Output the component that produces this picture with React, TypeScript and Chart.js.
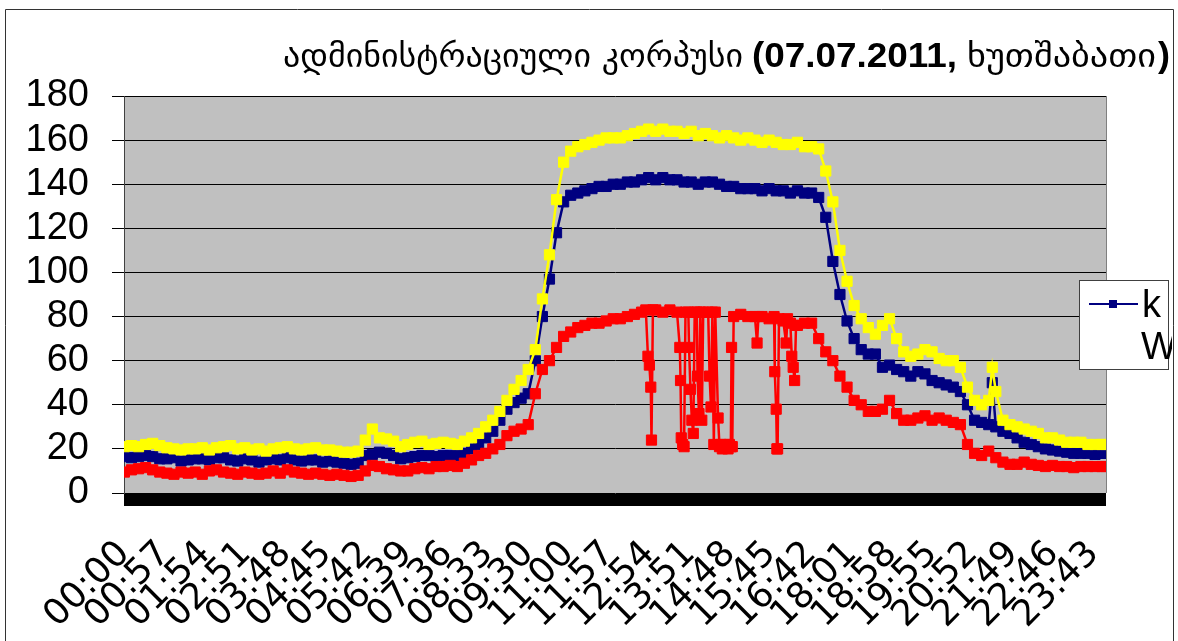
import React, { useEffect, useRef } from 'react';
import { Chart, registerables } from 'chart.js';

Chart.register(...registerables);

// ---------- DATA ----------
const titleParts = ['ადმინისტრაციული კორპუსი', '(07.07.2011,', 'ხუთშაბათი', ')'];
const legendLines = ['k', 'W'];
const seriesNames = ['kVA', 'kVAr', 'kW'];

const xTickLabels = [
  '00:00', '00:57', '01:54', '02:51', '03:48', '04:45', '05:42', '06:39', '07:36', '08:33',
  '09:30', '11:00', '11:57', '12:54', '13:51', '14:48', '15:45', '16:42', '18:01', '18:58',
  '19:55', '20:52', '21:49', '22:46', '23:43',
];
const tickEvery = 57; // one label every 57 records
const recordCount = 1386;
const yMin = 0;
const yMax = 180;
const yStep = 20;

// record index of each sample (yellow & blue series)
const sampleIdx = [
  0, 10, 20, 30, 40, 50, 60, 70, 80, 90,
  100, 110, 120, 130, 140, 150, 160, 170, 180, 190,
  200, 210, 220, 230, 240, 250, 260, 270, 280, 290,
  300, 310, 320, 330, 340, 350, 360, 370, 380, 390,
  400, 410, 420, 430, 440, 450, 460, 470, 480, 490,
  500, 510, 520, 530, 540, 550, 560, 570, 580, 590,
  600, 610, 620, 630, 640, 650, 660, 670, 680, 690,
  700, 710, 720, 730, 740, 750, 760, 770, 780, 790,
  800, 810, 820, 830, 840, 850, 860, 870, 880, 890,
  900, 910, 920, 930, 940, 950, 960, 970, 980, 990,
  1000, 1010, 1020, 1030, 1040, 1050, 1060, 1070, 1080, 1090,
  1100, 1110, 1120, 1130, 1140, 1150, 1160, 1170, 1180, 1190,
  1200, 1210, 1220, 1225, 1230, 1240, 1250, 1260, 1270, 1280, 1290,
  1300, 1310, 1320, 1330, 1340, 1350, 1360, 1370, 1380, 1385,
];

const yellowVals = [
  21, 21.5, 21, 22, 22.5, 21.5, 20.5, 20, 19.5, 20,
  20, 20.5, 19.5, 20.5, 21, 21.5, 20, 20.5, 19.5, 20,
  19, 20, 20.5, 21, 20, 19.5, 20, 20.5, 19.5, 19.5,
  19, 18.5, 18.5, 19, 24, 29, 25, 24.5, 23.5, 21,
  22, 23, 23.5, 22, 22.5, 23, 22.5, 22, 23.5, 25,
  27, 30, 33, 37, 42, 47, 51, 56, 65, 88,
  108, 133, 150, 155, 157, 158, 159, 160, 161, 161,
  161, 162, 163, 164, 165, 164, 165, 164, 164, 163,
  164, 162, 163, 162, 161, 162, 161, 160, 161, 160,
  159, 160, 159, 158, 158, 159, 157, 157, 156, 146,
  132, 110, 96, 85, 79, 75, 72, 76, 79, 70,
  64, 62, 63, 65, 64, 61, 60, 60, 57, 48,
  42, 40, 42, 57, 46, 33, 31, 30, 29, 28, 27,
  25, 25, 24, 23, 23, 23, 22, 22, 22, 22,
];

const blueVals = [
  16.5, 16, 16.5, 17, 16.5, 15.5, 15.5, 16, 14.5, 15,
  15.5, 15.5, 15, 16, 16, 15, 14.5, 15.5, 15, 14,
  15, 15.5, 15, 16, 15, 14.5, 15, 15, 14, 14.5,
  14, 13.5, 13, 13.5, 17, 17.5, 18.5, 18, 17, 15.5,
  16, 16.5, 17, 17, 16.5, 17, 17, 17, 18, 20,
  22, 25, 28, 33, 38, 41, 43, 45, 60, 80,
  97, 118, 132, 135, 136, 137, 138, 139, 139, 140,
  140, 141, 141, 142, 143, 142, 143, 142, 142, 141,
  141, 140, 141, 141, 140, 139, 139, 138, 138, 138,
  137, 138, 137, 137, 136, 137, 136, 136, 134, 125,
  105, 90, 78, 70, 65, 63, 63, 57, 58, 56,
  55, 53, 55, 54, 51, 50, 49, 48, 46, 40,
  33, 32, 31, 50, 30, 28, 27, 25, 23, 22, 21,
  20, 19.5, 19, 18.5, 18, 18, 18, 17.5, 18, 18,
];

// red series has extra records where it drops
const redIdx = [
  0, 10, 20, 30, 40, 50, 60, 70, 80, 90,
  100, 110, 120, 130, 140, 150, 160, 170, 180, 190,
  200, 210, 220, 230, 240, 250, 260, 270, 280, 290,
  300, 310, 320, 330, 340, 350, 360, 370, 380, 390,
  400, 410, 420, 430, 440, 450, 460, 470, 480, 490,
  500, 510, 520, 530, 540, 550, 560, 570, 580, 590,
  600, 610, 620, 630, 640, 650, 660, 670, 680, 690,
  700, 710, 720, 730,
  736, 739, 741, 743, 744, 746, 750, 760, 770, 780,
  784, 785, 786, 788, 790, 792, 796, 797, 799, 801, 803, 805, 808, 809, 811, 813, 815, 817,
  824, 826, 828, 830, 832, 834, 838, 840, 842, 844, 846, 848, 850, 852, 854, 856, 857, 858, 860,
  870, 880, 890, 893, 895, 900, 910, 917, 918, 920, 921, 922, 924, 930, 934, 936, 940, 942, 944, 946, 948,
  950, 960, 970, 980, 990,
  1000, 1010, 1020, 1030, 1040, 1050, 1060, 1070, 1080, 1090,
  1100, 1110, 1120, 1130, 1140, 1150, 1160, 1170, 1180, 1190,
  1200, 1210, 1220, 1230, 1240, 1250, 1260, 1270, 1280, 1290,
  1300, 1310, 1320, 1330, 1340, 1350, 1360, 1370, 1380, 1385,
];

const redVals = [
  9.5, 10.5, 11, 11.5, 10.5, 9.5, 9, 8.5, 9.5, 9,
  9.5, 8.5, 10, 10.5, 9.5, 9, 8.5, 9.5, 9, 8.5,
  9, 10, 9, 10.5, 9.5, 9, 8.5, 9, 8.5, 8,
  8.5, 8, 7.5, 8, 10, 12.5, 12, 11, 10.5, 10,
  10, 11, 11.5, 11, 12, 12, 12.5, 12, 13.5, 15,
  17, 18, 20, 22, 26, 28, 29, 31, 45, 56,
  60, 66, 71, 73, 75, 76, 77, 77, 78, 79,
  79, 80, 81, 82,
  83, 62, 58, 48, 24, 83, 83, 82, 83, 82,
  66, 51, 25, 22, 21, 82, 82, 66, 47, 33, 27, 82, 82, 53, 36, 82, 33, 82,
  82, 53, 39, 82, 22, 82, 34, 21, 22, 20, 21, 22, 21, 20, 22, 21, 66, 21, 80,
  81, 80, 80, 68, 80, 80, 79, 80, 55, 38, 20, 20, 79, 78, 68, 79, 77, 62, 57, 51, 76,
  76, 77, 77, 70, 64,
  60, 53, 48, 42, 40, 37, 37, 38, 42, 36,
  33, 33, 34, 35, 33, 34, 33, 32, 31, 22,
  18, 17, 19, 16, 14, 13, 13, 14, 13, 12.5,
  12, 12.5, 12, 12, 11.5, 12, 12, 12, 12, 12,
];

// ---------- HELPERS ----------
const zip = (xs: number[], ys: number[]) => xs.map((x, i) => ({ x, y: ys[i] }));

const decorPlugin = {
  id: 'decor',
  beforeDraw(chart: any) {
    const { ctx, chartArea: a } = chart;
    ctx.save();
    ctx.fillStyle = '#ffffff';
    ctx.fillRect(0, 0, chart.width, chart.height);
    ctx.fillStyle = '#C0C0C0';
    ctx.fillRect(a.left, a.top, a.right - a.left, a.bottom - a.top);
    ctx.restore();
  },
  afterDraw(chart: any) {
    const { ctx, chartArea: a } = chart;
    ctx.save();
    // floor band
    ctx.fillStyle = '#000000';
    ctx.fillRect(a.left, a.bottom + 1, a.right - a.left, 12);
    // right border of plot
    ctx.strokeStyle = '#808080';
    ctx.lineWidth = 1;
    ctx.beginPath();
    ctx.moveTo(a.right + 0.5, a.top);
    ctx.lineTo(a.right + 0.5, a.bottom);
    ctx.stroke();
    // outer frame
    ctx.strokeStyle = '#333333';
    ctx.beginPath();
    ctx.moveTo(5.5, 700);
    ctx.lineTo(5.5, 9.5);
    ctx.lineTo(1173.5, 9.5);
    ctx.lineTo(1173.5, 700);
    ctx.stroke();

    // title
    const parts = [
      { text: titleParts[0], font: "32px 'DejaVu Sans'", x0: 283, x1: 743 },
      { text: titleParts[1], font: "bold 35px 'Liberation Sans'", x0: 752, x1: 957 },
      { text: titleParts[2], font: "32px 'DejaVu Sans'", x0: 967, x1: 1156 },
      { text: titleParts[3], font: "bold 35px 'Liberation Sans'", x0: 1158, x1: 1170 },
    ];
    ctx.fillStyle = '#000';
    ctx.textBaseline = 'alphabetic';
    ctx.textAlign = 'left';
    for (const p of parts) {
      ctx.save();
      ctx.font = p.font;
      const w = ctx.measureText(p.text).width;
      ctx.translate(p.x0, 67);
      ctx.scale((p.x1 - p.x0) / w, 1);
      ctx.fillText(p.text, 0, 0);
      ctx.restore();
    }

    // legend
    ctx.fillStyle = '#ffffff';
    ctx.fillRect(1079.5, 280.5, 89, 89);
    ctx.strokeStyle = '#404040';
    ctx.lineWidth = 1;
    ctx.strokeRect(1079.5, 280.5, 89, 89);
    ctx.strokeStyle = '#000080';
    ctx.lineWidth = 2;
    ctx.beginPath();
    ctx.moveTo(1089, 304);
    ctx.lineTo(1138, 304);
    ctx.stroke();
    ctx.fillStyle = '#000080';
    ctx.fillRect(1109, 300, 8, 8);
    ctx.save();
    ctx.beginPath();
    ctx.rect(0, 0, 1172, 641);
    ctx.clip();
    ctx.fillStyle = '#000';
    ctx.font = "38px 'Liberation Sans'";
    ctx.fillText(legendLines[0], 1142, 317);
    ctx.fillText(legendLines[1], 1141, 359);
    ctx.restore();
    ctx.restore();
  },
};

export default function App() {
  const ref = useRef<HTMLCanvasElement>(null);

  useEffect(() => {
    if (!ref.current) return;
    const common = {
      pointStyle: 'rect',
      pointRadius: 7.2,
      pointBorderWidth: 1,
      borderWidth: 2.5,
      tension: 0,
    };
    const chart = new Chart(ref.current, {
      type: 'line',
      data: {
        datasets: [
          { ...common, label: seriesNames[0], data: zip(sampleIdx, yellowVals), borderColor: '#FFFF00', backgroundColor: '#FFFF00', pointBorderColor: '#FFFF00' },
          { ...common, label: seriesNames[1], data: zip(redIdx, redVals), borderColor: '#FF0000', backgroundColor: '#FF0000', pointBorderColor: '#FF0000' },
          { ...common, label: seriesNames[2], data: zip(sampleIdx, blueVals), borderColor: '#000080', backgroundColor: '#000080', pointBorderColor: '#000080' },
        ] as any,
      },
      options: {
        responsive: false,
        animation: false,
        events: [],
        layout: { padding: { top: 96, right: 72, left: 0, bottom: 0 } },
        plugins: {
          legend: { display: false },
          tooltip: { enabled: false },
          title: { display: false },
        },
        scales: {
          x: {
            type: 'linear',
            min: -0.5,
            max: recordCount - 0.5,
            grid: { display: false },
            border: { display: false },
            afterBuildTicks: (scale: any) => {
              scale.ticks = xTickLabels.map((_, k) => ({ value: k * tickEvery }));
            },
            afterFit: (scale: any) => {
              scale.height = 148;
            },
            ticks: {
              autoSkip: false,
              maxRotation: 45,
              minRotation: 45,
              padding: 32,
              color: '#000',
              font: { family: "'DejaVu Sans'", size: 36 },
              callback: (value: any) => {
                const k = Math.round(Number(value) / tickEvery);
                return xTickLabels[k] ?? '';
              },
            },
          },
          y: {
            min: yMin,
            max: yMax,
            grid: { color: '#000000', lineWidth: 1, tickLength: 12, drawTicks: true },
            border: { display: true, color: '#404040', width: 1 },
            afterFit: (scale: any) => {
              scale.width = 124;
            },
            ticks: {
              stepSize: yStep,
              autoSkip: false,
              padding: 23,
              color: '#000',
              font: { family: "'Liberation Sans'", size: 38, lineHeight: 1 },
            },
          },
        },
      } as any,
      plugins: [decorPlugin],
    });
    return () => chart.destroy();
  }, []);

  return (
    <div style={{ position: 'fixed', left: 0, top: 0, width: 1178, height: 641, background: '#fff' }}>
      <canvas ref={ref} width={1178} height={641} style={{ display: 'block' }} />
    </div>
  );
}
